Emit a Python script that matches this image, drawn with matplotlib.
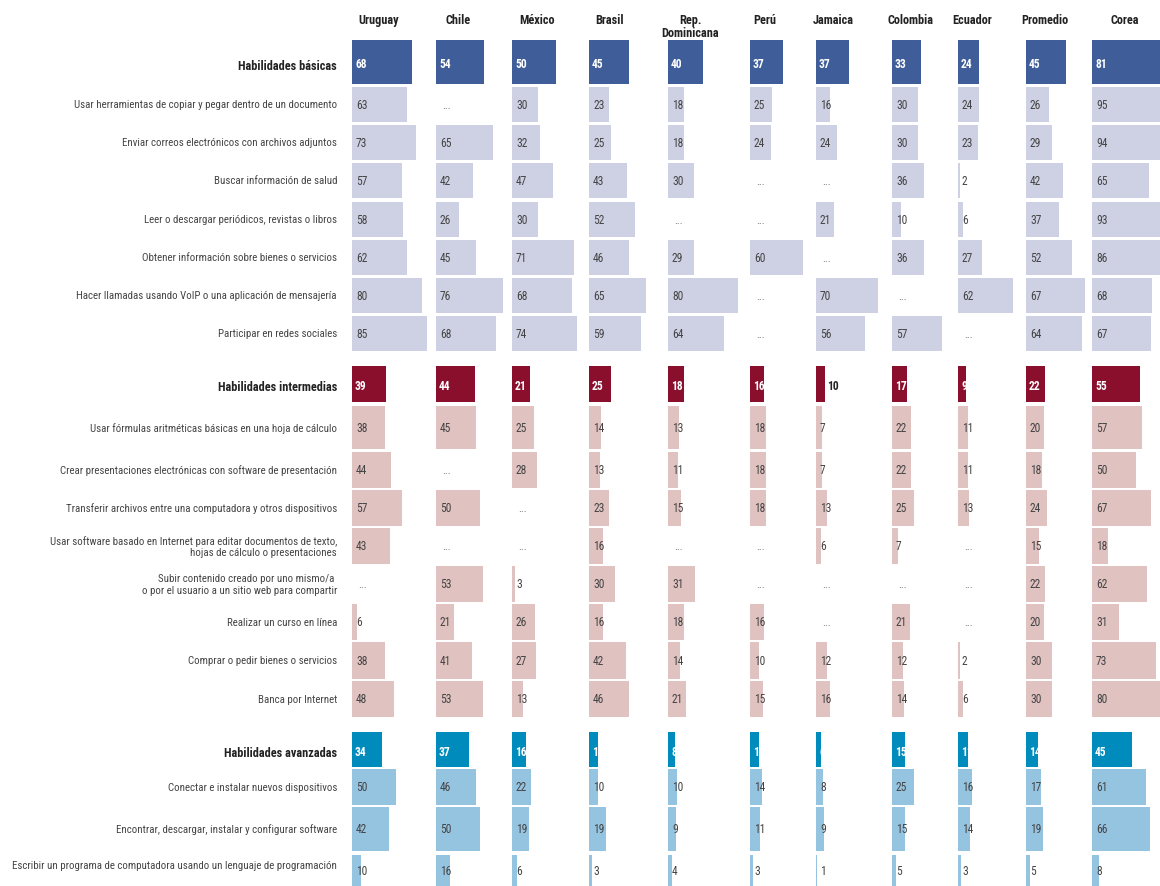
import matplotlib
matplotlib.use("Agg")
import matplotlib.pyplot as plt
from matplotlib import font_manager

# condensed face if one is installed, else DejaVu Sans at a smaller size
installed = {f.name for f in font_manager.fontManager.ttflist}
narrow = [n for n in ["Roboto Condensed", "Archivo Narrow", "PT Sans Narrow",
                      "Liberation Sans Narrow", "Open Sans Condensed"] if n in installed]
if narrow:
    plt.rcParams["font.family"] = [narrow[0], "DejaVu Sans"]
    fs_lab, fs_head, fs_val = 7.85, 8.8, 8.3
else:
    plt.rcParams["font.family"] = ["DejaVu Sans"]
    fs_lab, fs_head, fs_val = 6.0, 6.8, 6.8

countries = ["Uruguay", "Chile", "México", "Brasil", "Rep.\nDominicana", "Perú",
             "Jamaica", "Colombia", "Ecuador", "Promedio", "Corea"]

row_labels = [
    "Habilidades básicas",
    "Usar herramientas de copiar y pegar dentro de un documento",
    "Enviar correos electrónicos con archivos adjuntos",
    "Buscar información de salud",
    "Leer o descargar periódicos, revistas o libros",
    "Obtener información sobre bienes o servicios",
    "Hacer llamadas usando VoIP o una aplicación de mensajería",
    "Participar en redes sociales",
    "Habilidades intermedias",
    "Usar fórmulas aritméticas básicas en una hoja de cálculo",
    "Crear presentaciones electrónicas con software de presentación",
    "Transferir archivos entre una computadora y otros dispositivos",
    "Usar software basado en Internet para editar documentos de texto,\nhojas de cálculo o presentaciones",
    "Subir contenido creado por uno mismo/a \no por el usuario a un sitio web para compartir",
    "Realizar un curso en línea",
    "Comprar o pedir bienes o servicios",
    "Banca por Internet",
    "Habilidades avanzadas",
    "Conectar e instalar nuevos dispositivos",
    "Encontrar, descargar, instalar y configurar software",
    "Escribir un programa de computadora usando un lenguaje de programación",
]

# None = "..." (sin dato)
uruguay   = [68, 63, 73, 57, 58, 62, 80, 85, 39, 38, 44, 57, 43, None, 6, 38, 48, 34, 50, 42, 10]
chile     = [54, None, 65, 42, 26, 45, 76, 68, 44, 45, None, 50, None, 53, 21, 41, 53, 37, 46, 50, 16]
mexico    = [50, 30, 32, 47, 30, 71, 68, 74, 21, 25, 28, None, None, 3, 26, 27, 13, 16, 22, 19, 6]
brasil    = [45, 23, 25, 43, 52, 46, 65, 59, 25, 14, 13, 23, 16, 30, 16, 42, 46, 10, 10, 19, 3]
rep_dom   = [40, 18, 18, 30, None, 29, 80, 64, 18, 13, 11, 15, None, 31, 18, 14, 21, 8, 10, 9, 4]
peru      = [37, 25, 24, None, None, 60, None, None, 16, 18, 18, 18, None, None, 16, 10, 15, 10, 14, 11, 3]
jamaica   = [37, 16, 24, None, 21, None, 70, 56, 10, 7, 7, 13, 6, None, None, 12, 16, 6, 8, 9, 1]
colombia  = [33, 30, 30, 36, 10, 36, None, 57, 17, 22, 22, 25, 7, None, 21, 12, 14, 15, 25, 15, 5]
ecuador   = [24, 24, 23, 2, 6, 27, 62, None, 9, 11, 11, 13, None, None, None, 2, 6, 11, 16, 14, 3]
promedio  = [45, 26, 29, 42, 37, 52, 67, 64, 22, 20, 18, 24, 15, 22, 20, 30, 30, 14, 17, 19, 5]
corea     = [81, 95, 94, 65, 93, 86, 68, 67, 55, 57, 50, 67, 18, 62, 31, 73, 80, 45, 61, 66, 8]

columns = [uruguay, chile, mexico, brasil, rep_dom, peru, jamaica, colombia,
           ecuador, promedio, corea]

header_rows = [0, 8, 17]
group_of_row = [0] * 8 + [1] * 9 + [2] * 4

# layout (pixels)
W, H = 1160, 887
col_left = [352, 436, 512, 589, 668, 750, 816, 892, 958, 1026, 1092]
head_x = [379, 458, 537, 609, 690, 765, 833, 910, 972, 1045, 1125]
row_y = [63, 105.5, 143.5, 181.5, 220.5, 258.5, 296.5, 334.5,
         385, 428.5, 471, 509, 547, 585, 623, 661.5, 700,
         750.5, 788, 830, 872]
row_h = [44, 35, 35, 35, 35, 35, 35, 35,
         36, 43, 36, 36, 36, 36, 36, 37, 36,
         35, 36, 44, 32]
px_per_unit = 0.88

head_colors = ["#3f5d99", "#8a0f2d", "#008bbd"]
row_colors = ["#ced1e4", "#e0c2c0", "#95c4e1"]

fig = plt.figure(figsize=(W / 100, H / 100), dpi=100)

# row labels
lab = fig.add_axes([0, 0, 352 / W, 1])
lab.set_xlim(0, 352)
lab.set_ylim(H, 0)
lab.axis("off")
for i, txt in enumerate(row_labels):
    y = row_y[i]
    if i == len(row_labels) - 1:
        y = 866
    if i in header_rows:
        lab.text(337, y + 3, txt, ha="right", va="center", fontsize=fs_head,
                 fontweight="bold", color="#222222")
    else:
        lab.text(337, y, txt, ha="right", va="center", fontsize=fs_lab,
                 color="#444444", multialignment="right", linespacing=1.15)

col_right = col_left[1:] + [W]
for j, vals in enumerate(columns):
    x0 = col_left[j]
    cw = col_right[j] - x0
    ax = fig.add_axes([x0 / W, 0, cw / W, 1])
    ax.set_xlim(0, cw / px_per_unit)
    ax.set_ylim(H, 0)
    ax.axis("off")

    for i, v in enumerate(vals):
        g = group_of_row[i]
        is_head = i in header_rows
        if v is None:
            ax.annotate("...", xy=(0, row_y[i]), xytext=(6, 0),
                        textcoords="offset pixels", va="center", ha="left",
                        fontsize=fs_val, color="#777777")
            continue
        ax.barh(row_y[i], v, height=row_h[i], left=0,
                color=head_colors[g] if is_head else row_colors[g])
        if is_head:
            if j == 6 and i == 8:
                # Jamaica, intermedias: etiqueta fuera de la barra
                ax.annotate(str(v), xy=(v, row_y[i] + 2), xytext=(2, 0),
                            textcoords="offset pixels", va="center", ha="left",
                            fontsize=fs_val, fontweight="bold", color="#222222")
            else:
                ax.annotate(str(v), xy=(0, row_y[i] + 2), xytext=(3, 0),
                            textcoords="offset pixels", va="center", ha="left",
                            fontsize=fs_val, fontweight="bold", color="white")
        else:
            ax.annotate(str(v), xy=(0, row_y[i]), xytext=(4, 0),
                        textcoords="offset pixels", va="center", ha="left",
                        fontsize=fs_val, color="#444444")

for j, name in enumerate(countries):
    fig.text(head_x[j] / W, 1 - 14 / H, name, ha="center", va="top",
             fontsize=fs_head, fontweight="bold", color="#222222", linespacing=1.0)

fig.savefig("out.png", dpi=100)
